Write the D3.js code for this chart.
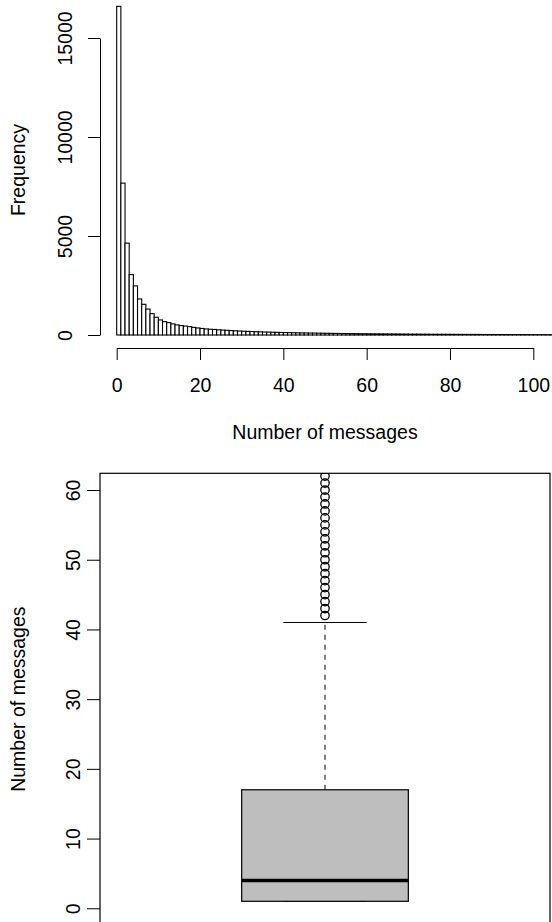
<!DOCTYPE html>
<html>
<head>
<meta charset="utf-8">
<script src="https://cdn.jsdelivr.net/npm/d3@7/dist/d3.min.js"></script>
<style>
  body { margin: 0; background: #fff; }
  svg text { font-family: "Liberation Sans", Arial, sans-serif; font-size: 19.5px; fill: #000; }
</style>
</head>
<body>
<div id="chart"></div>
<script>
// histogram: counts per 1-message bin, starting at [0,1)
const binCounts = [16600, 7670, 4640, 3050, 2480, 1820, 1550, 1310, 1080, 895,
  760, 675, 625, 560, 510, 475, 450, 420, 385, 355,
  330, 305, 290, 280, 262, 248, 236, 222, 212, 200,
  190, 182, 175, 166, 158, 150, 146, 140, 134, 128,
  124, 118, 114, 110, 106, 102, 98, 95, 92, 88,
  86, 82, 80, 76, 74, 71, 69, 66, 64, 62,
  60, 58, 56, 55, 53, 51, 49, 48, 46, 45,
  43, 42, 41, 39, 38, 37, 36, 35, 34, 33,
  32, 31, 30, 29, 29, 28, 27, 26, 25, 25,
  24, 23, 22, 22, 21, 20, 20, 19, 19, 18,
  18, 17, 17, 16, 16];
const histXTicks = [0, 20, 40, 60, 80, 100];
const histYTicks = [0, 5000, 10000, 15000];

// boxplot summary of number of messages
const boxStats = { lowerWhisker: 1, q1: 1, median: 4, q3: 17, upperWhisker: 41 };
const outliers = [42, 43, 44, 45, 46, 47, 48, 49, 50, 51, 52, 53, 54, 55, 56, 57, 58, 59, 60,
  61, 62, 63, 64, 65];
const boxYTicks = [0, 10, 20, 30, 40, 50, 60];

const width = 552;
const height = 922;

const svg = d3.select("#chart")
  .append("svg")
  .attr("width", width)
  .attr("height", height);

// ---------- histogram ----------
const hx = d3.scaleLinear().domain([0, 100]).range([116.7, 533.3]);
const hy = d3.scaleLinear().domain([0, 15000]).range([335, 38]);

svg.append("g")
  .selectAll("rect")
  .data(binCounts)
  .enter()
  .append("rect")
  .attr("x", (d, i) => hx(i))
  .attr("y", d => hy(d))
  .attr("width", (d, i) => hx(i + 1) - hx(i))
  .attr("height", d => hy(0) - hy(d))
  .attr("fill", "#fff")
  .attr("stroke", "#000")
  .attr("stroke-width", 1.1);

const histX = svg.append("g")
  .attr("transform", "translate(0,348)")
  .call(d3.axisBottom(hx).tickValues(histXTicks).tickSize(12).tickSizeOuter(0).tickPadding(0));
histX.selectAll("text").attr("y", 44).attr("dy", 0);

const histY = svg.append("g")
  .attr("transform", "translate(100,0)")
  .call(d3.axisLeft(hy).tickValues(histYTicks).tickSize(12).tickSizeOuter(0).tickFormat(d3.format("d")));
histY.selectAll("text")
  .attr("transform", "rotate(-90)")
  .attr("x", 0)
  .attr("y", -28)
  .attr("dy", 0)
  .attr("text-anchor", "middle");

svg.append("text")
  .attr("x", hx(50))
  .attr("y", 439)
  .attr("text-anchor", "middle")
  .text("Number of messages");

svg.append("text")
  .attr("transform", "translate(25,170) rotate(-90)")
  .attr("text-anchor", "middle")
  .text("Frequency");

// ---------- boxplot ----------
const bx = d3.scaleLinear().domain([0.46, 1.54]).range([100, 550]);
const by = d3.scaleLinear().domain([-2.4, 62.4]).range([925, 473.3]);

svg.append("clipPath")
  .attr("id", "boxClip")
  .append("rect")
  .attr("x", bx(0.46))
  .attr("y", by(62.4))
  .attr("width", bx(1.54) - bx(0.46))
  .attr("height", by(-2.4) - by(62.4));

const box = svg.append("g").attr("clip-path", "url(#boxClip)");

box.append("line")
  .attr("x1", bx(1)).attr("x2", bx(1))
  .attr("y1", by(boxStats.q3)).attr("y2", by(boxStats.upperWhisker))
  .attr("stroke", "#000")
  .attr("stroke-dasharray", "5,5");

box.selectAll(".staple")
  .data([boxStats.lowerWhisker, boxStats.upperWhisker])
  .enter()
  .append("line")
  .attr("x1", bx(0.9)).attr("x2", bx(1.1))
  .attr("y1", d => by(d)).attr("y2", d => by(d))
  .attr("stroke", "#000");

box.append("rect")
  .attr("x", bx(0.8))
  .attr("y", by(boxStats.q3))
  .attr("width", bx(1.2) - bx(0.8))
  .attr("height", by(boxStats.q1) - by(boxStats.q3))
  .attr("fill", "#bebebe")
  .attr("stroke", "#000")
  .attr("stroke-width", 1.2);

box.append("line")
  .attr("x1", bx(0.8)).attr("x2", bx(1.2))
  .attr("y1", by(boxStats.median)).attr("y2", by(boxStats.median))
  .attr("stroke", "#000")
  .attr("stroke-width", 3.5);

box.selectAll("circle")
  .data(outliers)
  .enter()
  .append("circle")
  .attr("cx", bx(1))
  .attr("cy", d => by(d))
  .attr("r", 4.2)
  .attr("fill", "none")
  .attr("stroke", "#000")
  .attr("stroke-width", 1.3);

svg.append("rect")
  .attr("x", bx(0.46))
  .attr("y", by(62.4))
  .attr("width", bx(1.54) - bx(0.46))
  .attr("height", by(-2.4) - by(62.4))
  .attr("fill", "none")
  .attr("stroke", "#000")
  .attr("stroke-width", 1.2);

const boxY = svg.append("g")
  .attr("transform", "translate(100,0)")
  .call(d3.axisLeft(by).tickValues(boxYTicks).tickSize(13).tickSizeOuter(0));
boxY.select(".domain").remove();
boxY.selectAll("text")
  .attr("transform", "rotate(-90)")
  .attr("x", 0)
  .attr("y", -20)
  .attr("dy", 0)
  .attr("text-anchor", "middle");

svg.append("text")
  .attr("transform", "translate(25," + by(30) + ") rotate(-90)")
  .attr("text-anchor", "middle")
  .text("Number of messages");

svg.selectAll(".tick line").attr("stroke", "#000");
svg.selectAll(".domain").attr("stroke", "#000");
svg.selectAll(".tick text").style("font-size", "19.5px").style("font-family", "Liberation Sans, Arial, sans-serif");
</script>
</body>
</html>
